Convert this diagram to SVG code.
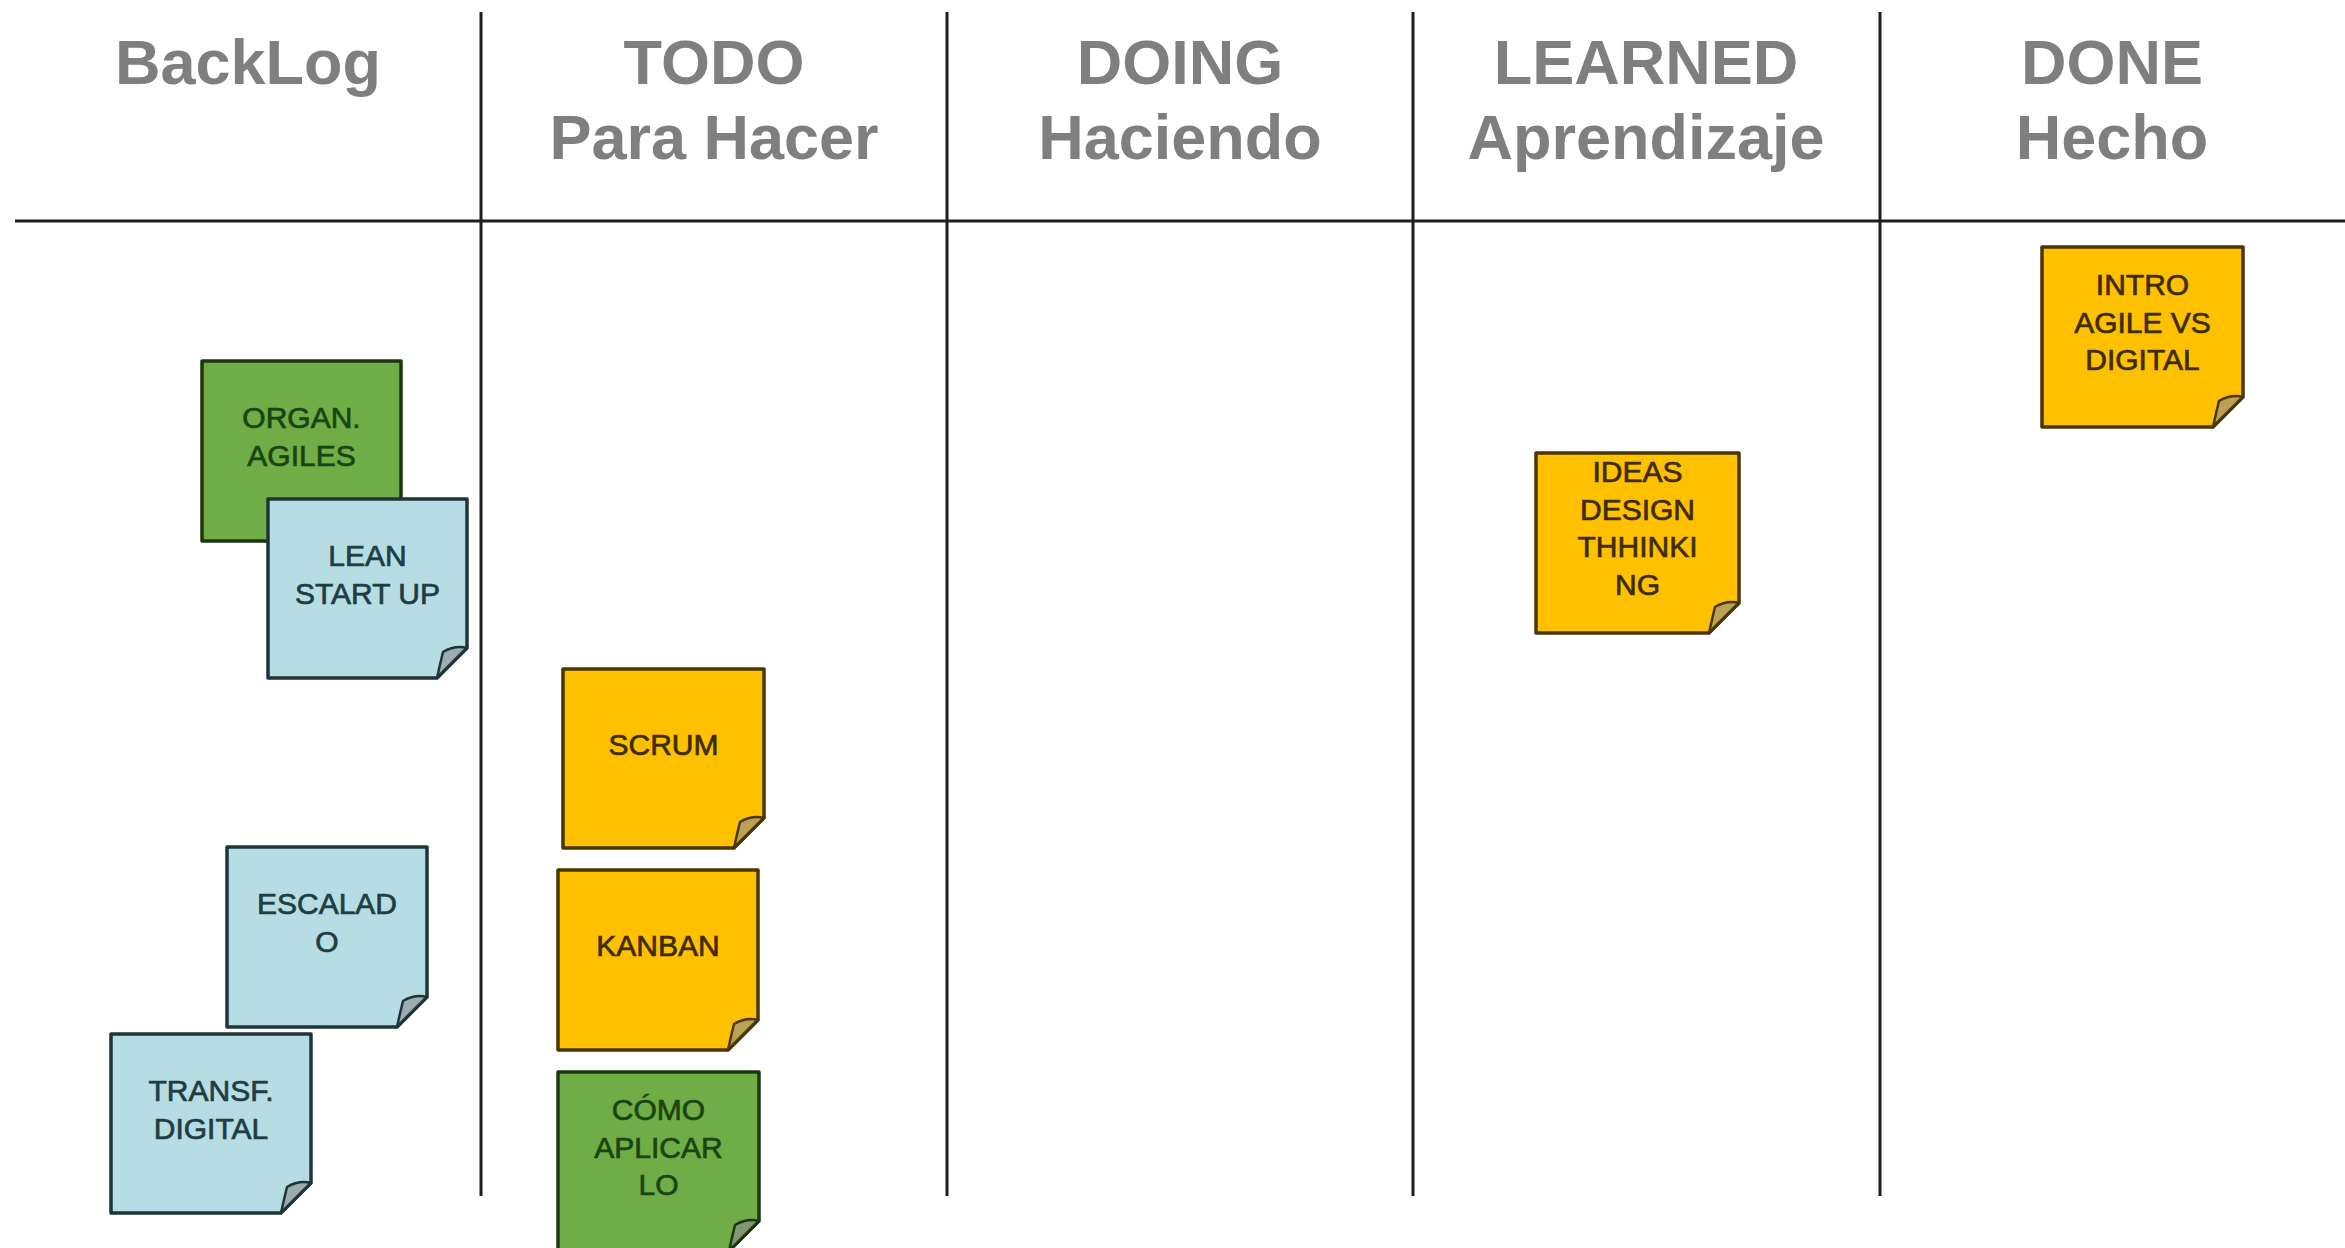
<svg xmlns="http://www.w3.org/2000/svg" width="2345" height="1248" viewBox="0 0 2345 1248">
<style>
.hdr{font-family:"Liberation Sans",Arial,sans-serif;font-weight:bold;font-size:63px;fill:#7f7f7f;text-anchor:middle}
.line{stroke:#1e1e1e;stroke-width:3;fill:none}
.nt{font-family:"Liberation Sans",Arial,sans-serif;font-size:30px;text-anchor:middle;stroke-width:0.7}
.orange .body{fill:#ffc000;stroke:#4a3600;stroke-width:3.5;stroke-linejoin:round}
.orange text{fill:#3d2c00;stroke:#3d2c00}
.green .body{fill:#70ad47;stroke:#1d3610;stroke-width:3.5;stroke-linejoin:round}
.green text{fill:#1a4510;stroke:#1a4510}
.blue .body{fill:#b7dde4;stroke:#1f3438;stroke-width:3.5;stroke-linejoin:round}
.blue text{fill:#213c42;stroke:#213c42}
.flap{fill:#8c8c8c;fill-opacity:0.6;stroke-width:2.5;stroke-linejoin:round}
.orange .flap{stroke:#4a3600}
.green .flap{stroke:#1d3610}
.blue .flap{stroke:#1f3438}
</style>
<rect width="2345" height="1248" fill="#ffffff"/>
<g id="board-lines">
<line class="line" x1="15" y1="221" x2="2345" y2="221"/>
<line class="line" x1="481" y1="12" x2="481" y2="1196"/>
<line class="line" x1="947" y1="12" x2="947" y2="1196"/>
<line class="line" x1="1413" y1="12" x2="1413" y2="1196"/>
<line class="line" x1="1880" y1="12" x2="1880" y2="1196"/>
</g>
<g id="headers">
<g id="col-backlog"><text class="hdr" x="248" y="84">BackLog</text></g>
<g id="col-todo"><text class="hdr" x="714" y="84">TODO</text><text class="hdr" x="714" y="159">Para Hacer</text></g>
<g id="col-doing"><text class="hdr" x="1180" y="84">DOING</text><text class="hdr" x="1180" y="159">Haciendo</text></g>
<g id="col-learned"><text class="hdr" x="1646" y="84">LEARNED</text><text class="hdr" x="1646" y="159">Aprendizaje</text></g>
<g id="col-done"><text class="hdr" x="2112" y="84">DONE</text><text class="hdr" x="2112" y="159">Hecho</text></g>
</g>
<g id="note-organ" class="green">
<path class="body" d="M202 361 H401 V511 L371 541 H202 Z"/>
<text class="nt" x="301.5" y="428">ORGAN.</text>
<text class="nt" x="301.5" y="465.5">AGILES</text>
</g>
<g id="note-lean" class="blue">
<path class="body" d="M268 499 H467 V648 L437 678 H268 Z"/>
<path class="flap" d="M467 648 Q455 645 443 652 Q440 664 437 678 Z"/>
<text class="nt" x="367.5" y="566">LEAN</text>
<text class="nt" x="367.5" y="603.5">START UP</text>
</g>
<g id="note-escalado" class="blue">
<path class="body" d="M227 847 H427 V997 L397 1027 H227 Z"/>
<path class="flap" d="M427 997 Q415 994 403 1001 Q400 1013 397 1027 Z"/>
<text class="nt" x="327" y="914">ESCALAD</text>
<text class="nt" x="327" y="951.5">O</text>
</g>
<g id="note-transf" class="blue">
<path class="body" d="M111 1034 H311 V1183 L281 1213 H111 Z"/>
<path class="flap" d="M311 1183 Q299 1180 287 1187 Q284 1199 281 1213 Z"/>
<text class="nt" x="211" y="1101">TRANSF.</text>
<text class="nt" x="211" y="1138.5">DIGITAL</text>
</g>
<g id="note-scrum" class="orange">
<path class="body" d="M563 669 H764 V818 L734 848 H563 Z"/>
<path class="flap" d="M764 818 Q752 815 740 822 Q737 834 734 848 Z"/>
<text class="nt" x="663.5" y="755">SCRUM</text>
</g>
<g id="note-kanban" class="orange">
<path class="body" d="M558 870 H758 V1020 L728 1050 H558 Z"/>
<path class="flap" d="M758 1020 Q746 1017 734 1024 Q731 1036 728 1050 Z"/>
<text class="nt" x="658" y="956">KANBAN</text>
</g>
<g id="note-como" class="green">
<path class="body" d="M558 1072 H759 V1221 L729 1251 H558 Z"/>
<path class="flap" d="M759 1221 Q747 1218 735 1225 Q732 1237 729 1251 Z"/>
<text class="nt" x="658.5" y="1120">CÓMO</text>
<text class="nt" x="658.5" y="1157.5">APLICAR</text>
<text class="nt" x="658.5" y="1195">LO</text>
</g>
<g id="note-ideas" class="orange">
<path class="body" d="M1536 453 H1739 V603 L1709 633 H1536 Z"/>
<path class="flap" d="M1739 603 Q1727 600 1715 607 Q1712 619 1709 633 Z"/>
<text class="nt" x="1637.5" y="482">IDEAS</text>
<text class="nt" x="1637.5" y="519.5">DESIGN</text>
<text class="nt" x="1637.5" y="557">THHINKI</text>
<text class="nt" x="1637.5" y="594.5">NG</text>
</g>
<g id="note-intro" class="orange">
<path class="body" d="M2042 247 H2243 V397 L2213 427 H2042 Z"/>
<path class="flap" d="M2243 397 Q2231 394 2219 401 Q2216 413 2213 427 Z"/>
<text class="nt" x="2142.5" y="295">INTRO</text>
<text class="nt" x="2142.5" y="332.5">AGILE VS</text>
<text class="nt" x="2142.5" y="370">DIGITAL</text>
</g>
</svg>
